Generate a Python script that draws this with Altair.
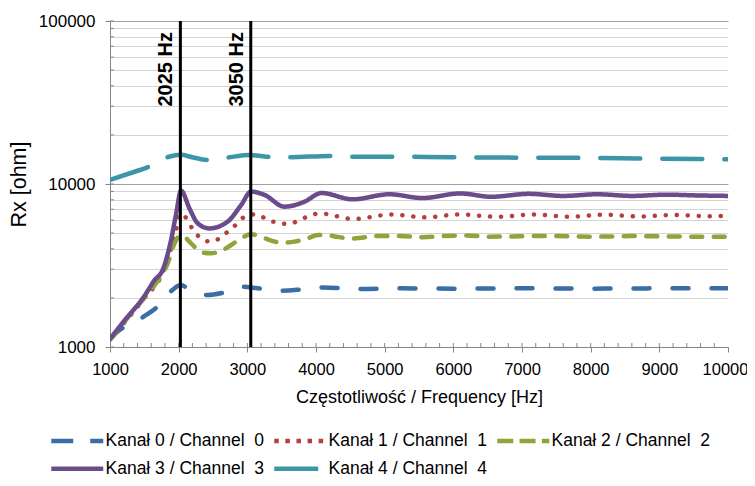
import altair as alt
import pandas as pd

FONT = "Liberation Sans"

names = [
    "Kanał 0 / Channel\u00a0 0",
    "Kanał 1 / Channel\u00a0 1",
    "Kanał 2 / Channel\u00a0 2",
    "Kanał 3 / Channel\u00a0 3",
    "Kanał 4 / Channel\u00a0 4",
]
colors = ["#3A6EA5", "#B5403A", "#8EA53B", "#6A4B8B", "#3C96A8"]
dash_line = [[16, 23], [0.1, 10.9], [11, 11.5], [1, 0], [40, 22]]
dash_legend = [[22, 17], [4.5, 6.6], [16, 6.3], [1, 0], [44, 18]]

# Kanał 0
f0 = [1000, 1140, 1490, 1690, 1910, 2030, 2130, 2300, 2420, 2650, 2950, 3150, 3500,
      3800, 4100, 4600, 5200, 6000, 7000, 8000, 9000, 10000]
v0 = [1130, 1271, 1534, 1766, 2240, 2400, 2290, 2120, 2085, 2154, 2343, 2290, 2212,
      2258, 2320, 2270, 2290, 2280, 2290, 2280, 2290, 2290]
# Kanał 1
f1 = [1000, 1500, 1767, 1889, 1960, 2035, 2122, 2205, 2312, 2462, 2618, 2740, 2860,
      2982, 3133, 3283, 3434, 3589, 3750, 3905, 4060, 4540, 5100, 5600, 6080, 6650,
      7150, 7700, 8200, 8700, 9200, 9700, 10000]
v1 = [1110, 2000, 2850, 4000, 5200, 6600, 6070, 5270, 4690, 4430, 4710, 5220, 5740,
      6400, 6520, 6070, 5790, 5690, 5960, 6400, 6600, 6100, 6500, 6240, 6510, 6290,
      6500, 6300, 6480, 6320, 6450, 6350, 6380]
# Kanał 2
f2 = [1000, 1040, 1230, 1475, 1670, 1840, 1940, 2040, 2181, 2327, 2472, 2618, 2764,
      2910, 3055, 3201, 3347, 3516, 3687, 3881, 4026, 4149, 4294, 4537, 4878, 5217,
      5557, 5848, 6189, 6529, 6864, 7400, 8000, 8600, 9200, 10000]
v2 = [1110, 1157, 1465, 1942, 2460, 3260, 4325, 4860, 4325, 3810, 3760, 3880, 4225,
      4650, 4915, 4750, 4490, 4365, 4430, 4650, 4860, 4860, 4750, 4630, 4790, 4800,
      4710, 4790, 4830, 4750, 4770, 4800, 4750, 4790, 4760, 4750]
# Kanał 3
f3 = [1000, 1208, 1500, 1650, 1767, 1889, 1960, 2035, 2156, 2277, 2448, 2714, 2910,
      3055, 3250, 3540, 3830, 4080, 4530, 5070, 5550, 6100, 6550, 7100, 7600, 8100,
      8600, 9100, 9600, 10000]
v3 = [1120, 1449, 2050, 2577, 2966, 4530, 6450, 9100, 7100, 5740, 5340, 5880, 7430,
      8980, 8570, 7260, 7780, 8800, 8050, 8650, 8200, 8750, 8350, 8700, 8450, 8650,
      8450, 8600, 8500, 8450]
# Kanał 4
f4 = [1000, 1280, 1574, 1860, 2030, 2200, 2423, 2739, 3030, 3274, 3614, 4197, 4532,
      5115, 6000, 7000, 8000, 9000, 10000]
v4 = [10600, 11600, 12800, 14700, 15100, 14600, 14030, 14590, 15070, 14710, 14590,
      14870, 14710, 14710, 14600, 14500, 14450, 14300, 14170]

marker_f = [2025, 3050]
marker_labels = ["2025 Hz", "3050 Hz"]

x_ticks = list(range(1000, 10001, 1000))
x_minor = list(range(1200, 10000, 200))
y_ticks = list(range(1000, 10000, 1000)) + list(range(10000, 100000, 10000)) + [100000]

rows = []
for name, fs, vs in zip(names, [f0, f1, f2, f3, f4], [v0, v1, v2, v3, v4]):
    for f, v in zip(fs, vs):
        rows.append({"series": name, "f": f, "v": v})
df = pd.DataFrame(rows)
markers = pd.DataFrame({"f": marker_f, "label": marker_labels})
xminor_df = pd.DataFrame({"f": x_minor})
yminor_df = pd.DataFrame({"v": y_ticks})

W, H = 618, 326
GRID_MAJOR = "#a0a0a0"
GRID_MINOR = "#d4d4d4"
AXIS = "#868686"

x_scale = alt.Scale(domain=[1000, 10000], nice=False, zero=False)
y_scale = alt.Scale(type="log", domain=[1000, 100000], nice=False)

x_axis = alt.Axis(
    values=x_ticks, format="d", grid=False, labelFlush=False, labelOverlap=False,
    labelOffset={"condition": {"test": "datum.value == 10000", "value": -3}, "value": 0},
    title="Częstotliwość / Frequency [Hz]", titleFontSize=18, titleFontWeight="normal",
    titlePadding=11, labelFontSize=16.5, labelPadding=9, tickSize=5,
)
y_test = "datum.value == 1000 || datum.value == 10000 || datum.value == 100000"
y_axis = alt.Axis(
    values=y_ticks, format="d", labelOverlap=False,
    labelExpr=f"({y_test}) ? datum.label : ''",
    grid=True,
    gridColor={"condition": {"test": y_test, "value": GRID_MAJOR}, "value": GRID_MINOR},
    tickOpacity={"condition": {"test": y_test, "value": 1}, "value": 0},
    title="Rx [ohm]", titleFontSize=21.5, titleFontWeight="normal", titlePadding=8,
    labelFontSize=17, labelPadding=10, tickSize=5,
)

x_enc = alt.X("f:Q", scale=x_scale, axis=x_axis)
y_enc = alt.Y("v:Q", scale=y_scale, axis=y_axis)

lines = alt.Chart(df).mark_line(
    strokeWidth=4.5, strokeCap="round", strokeJoin="round", interpolate="monotone",
    clip=True,
).encode(
    x=x_enc, y=y_enc,
    color=alt.Color("series:N", scale=alt.Scale(domain=names, range=colors), legend=None),
    strokeDash=alt.StrokeDash("series:N", scale=alt.Scale(domain=names, range=dash_line), legend=None),
)

# legend symbol: a 52 px long horizontal stroke drawn from a size-100 symbol
leg = alt.Legend(
    title=None, orient="none", legendX=-60, legendY=411, columns=3, direction="horizontal",
    symbolType="M-5.2,0H5.2", symbolSize=100, symbolStrokeWidth=4.5, symbolOffset=18.5,
    labelFontSize=17.5, labelFont=FONT, labelColor="black", labelOffset=19.5,
    columnPadding=0, rowPadding=9, labelLimit=300,
)
legend_layer = alt.Chart(df).transform_filter("false").mark_line(strokeWidth=4.5).encode(
    x=x_enc, y=y_enc,
    color=alt.Color("series:N", scale=alt.Scale(domain=names, range=colors), legend=leg),
    strokeDash=alt.StrokeDash("series:N", scale=alt.Scale(domain=names, range=dash_legend), legend=leg),
)

xminor = alt.Chart(xminor_df).mark_rule(color=AXIS, strokeWidth=1).encode(
    x=alt.X("f:Q", scale=x_scale, axis=x_axis), y=alt.value(H - 4), y2=alt.value(H)
)
yminor = alt.Chart(yminor_df).mark_rule(color=AXIS, strokeWidth=1).encode(
    y=alt.Y("v:Q", scale=y_scale, axis=y_axis), x=alt.value(0), x2=alt.value(4)
)

rules = alt.Chart(markers).mark_rule(color="black", strokeWidth=3).encode(
    x=alt.X("f:Q", scale=x_scale, axis=x_axis)
)
texts = alt.Chart(markers).mark_text(
    angle=270, align="right", baseline="alphabetic", dy=-8,
    fontSize=20, fontWeight="bold", font=FONT, color="black",
).encode(
    x=alt.X("f:Q", scale=x_scale, axis=x_axis), y=alt.value(11), text="label:N"
)

chart = alt.layer(xminor, yminor, lines, rules, texts, legend_layer).resolve_scale(
    color="independent", strokeDash="independent"
).properties(
    width=W, height=H,
    autosize=alt.AutoSizeParams(type="none"),
    padding={"left": 102, "top": 13, "right": 19, "bottom": 131},
    background="white",
).configure_view(stroke=None).configure_axis(
    labelFont=FONT, titleFont=FONT, labelColor="black", titleColor="black",
    domainColor=AXIS, tickColor=AXIS, domainWidth=1,
)

chart.save("out.html", embed_options={"renderer": "svg", "actions": False})
